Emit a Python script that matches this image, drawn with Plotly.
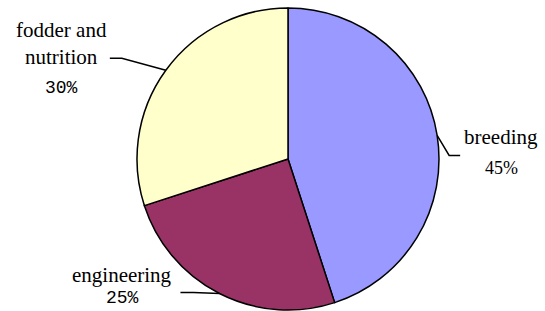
import math
import plotly.graph_objects as go

labels = ["breeding", "engineering", "fodder and<br>nutrition"]
values = [45, 25, 30]
colors = ["#9999FF", "#993366", "#FFFFCC"]
pct_text = ["45%", "25%", "30%"]

W, H = 545, 311
cx, cy, r = 288, 159, 151  # pie centre / radius in pixels

SERIF = "Liberation Serif, Times New Roman, serif"
MONO = "Liberation Mono, Courier New, monospace"

fig = go.Figure(go.Pie(
    labels=labels, values=values, sort=False, direction="clockwise", rotation=0,
    marker=dict(colors=colors, line=dict(color="black", width=1.5)),
    textinfo="none", hoverinfo="label+percent", showlegend=False,
    domain=dict(x=[(cx - r) / W, (cx + r) / W], y=[(H - cy - r) / H, (H - cy + r) / H]),
))

def px(x):
    return x / W

def py(y):
    return 1 - y / H

layout_spec = [
    dict(elbow=(12, 20), end=(11, 0), label=(41, -18), pct=(41, 13), pctfont=SERIF),
    dict(elbow=(-26, -1), end=(-13, 0), label=(-58, -18), pct=(-58, 5), pctfont=MONO),
    dict(elbow=(-44, -12), end=(-12, 0), label=(-48, -15), pct=(-48, 30), pctfont=MONO),
]

shapes = []
annotations = []
total = sum(values)
cum = 0
for i, v in enumerate(values):
    mid = (cum + v / 2) / total * 2 * math.pi
    cum += v
    ex = cx + r * math.sin(mid)
    ey = cy - r * math.cos(mid)
    s = layout_spec[i]
    bx, by = ex + s["elbow"][0], ey + s["elbow"][1]
    tx, ty = bx + s["end"][0], by + s["end"][1]
    shapes.append(dict(type="path", xref="paper", yref="paper",
                       path=f"M {px(ex)},{py(ey)} L {px(bx)},{py(by)} L {px(tx)},{py(ty)}",
                       line=dict(color="black", width=1.5)))
    annotations.append(dict(x=px(tx + s["label"][0]), y=py(ty + s["label"][1]), xref="paper", yref="paper",
                            text=labels[i], showarrow=False, xanchor="center", yanchor="middle",
                            font=dict(family=SERIF, size=21, color="black")))
    annotations.append(dict(x=px(tx + s["pct"][0]), y=py(ty + s["pct"][1]), xref="paper", yref="paper",
                            text=pct_text[i], showarrow=False, xanchor="center", yanchor="middle",
                            font=dict(family=s["pctfont"], size=18, color="black")))

fig.update_layout(width=W, height=H, margin=dict(l=0, r=0, t=0, b=0),
                  paper_bgcolor="white", plot_bgcolor="white",
                  shapes=shapes, annotations=annotations)
fig.write_html("out.html", config={"displayModeBar": False},
               post_script="document.body.style.margin='0';document.body.style.padding='0';")
